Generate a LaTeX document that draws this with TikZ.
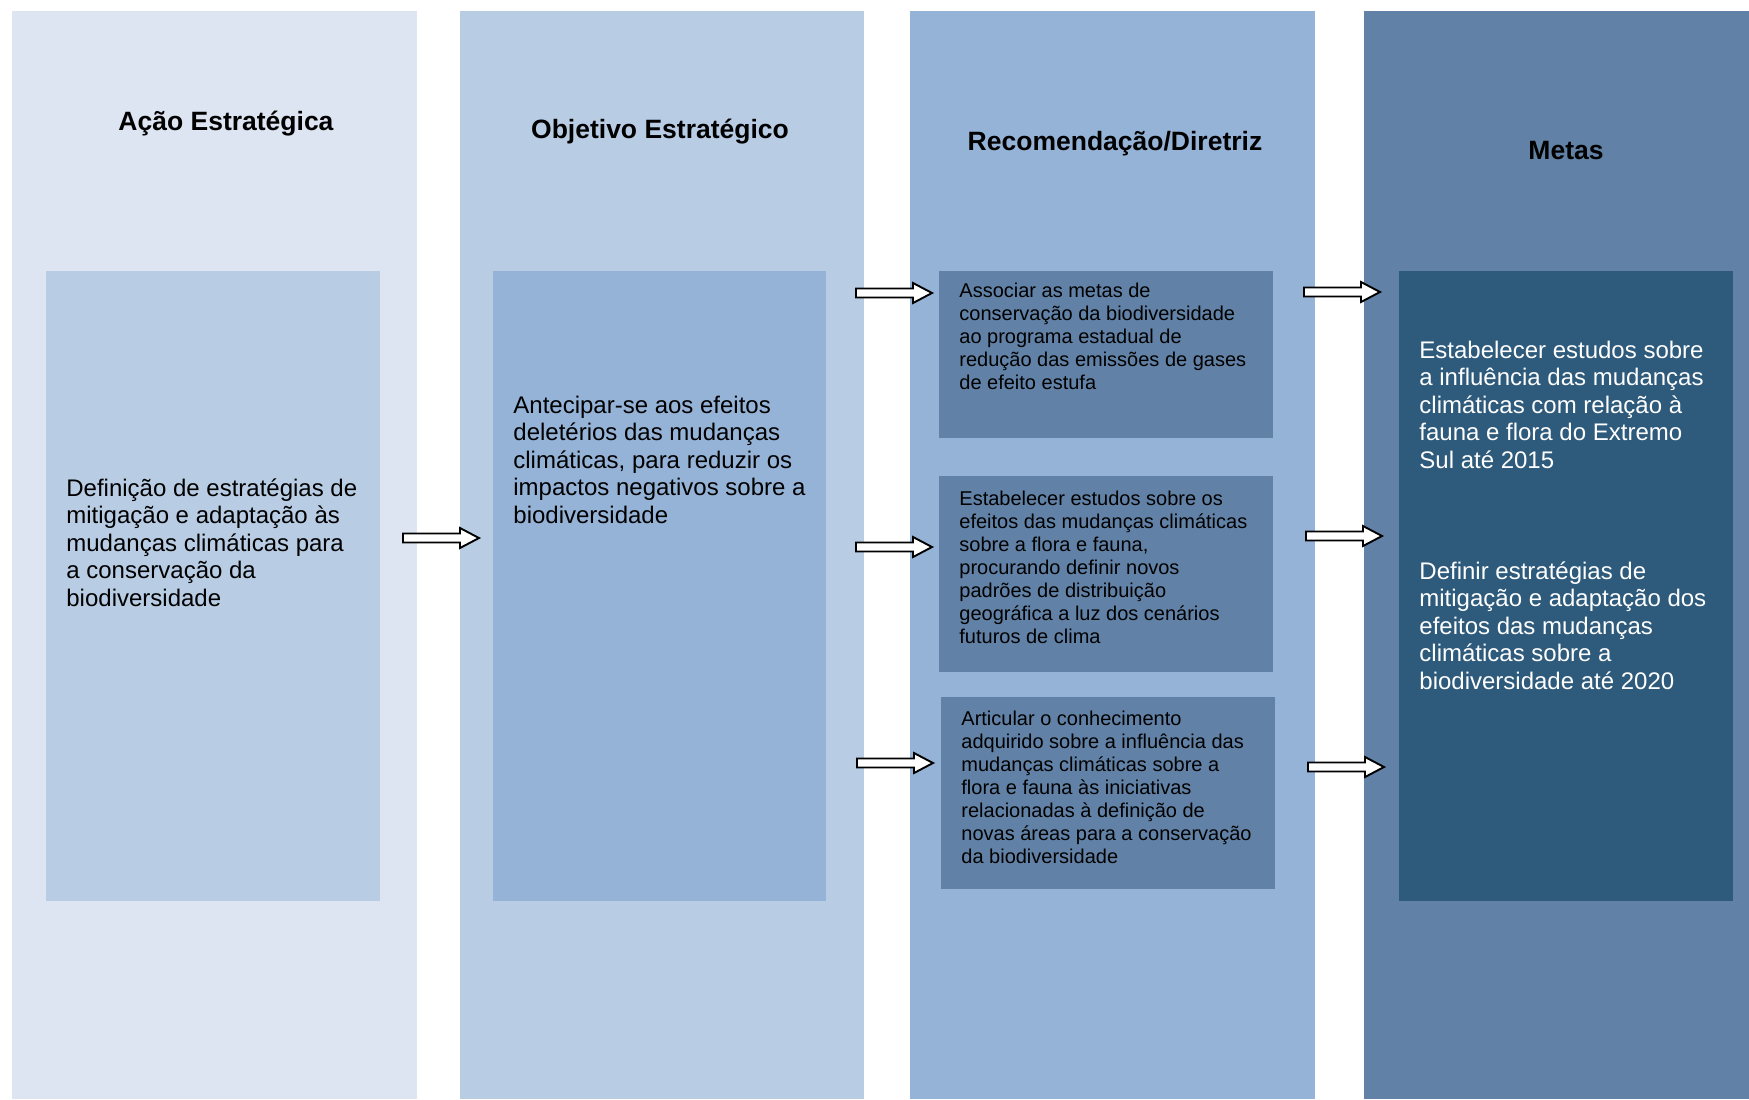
\documentclass[tikz,border=0pt]{standalone}
\usepackage{fontspec}
\setmainfont{Liberation Sans}
\begin{document}
\definecolor{colA}{HTML}{DCE5F1}
\definecolor{colB}{HTML}{B8CCE4}
\definecolor{colC}{HTML}{95B3D7}
\definecolor{colD}{HTML}{6182A6}
\definecolor{colE}{HTML}{2E5A7B}
\begin{tikzpicture}[x=0.5pt,y=-0.5pt,
  band/.style={fill=#1,draw=none},
  cell/.style={fill=#1,draw=none,inner sep=0,anchor=north west},
  head/.style={font=\fontsize{13.25}{15}\selectfont\bfseries,anchor=base,inner sep=0},
  body/.style={font=\fontsize{12}{13.8}\selectfont,align=left,anchor=base west,inner sep=0},
  small/.style={font=\fontsize{10}{11.55}\selectfont,align=left,anchor=base west,inner sep=0},
  blk/.style={draw=black,fill=white,line width=0.95pt,line join=miter}]
\useasboundingbox (0,0) rectangle (1749,1099);

% column bands
\fill[band=colA] (12,11) rectangle (417,1099);
\fill[band=colB] (460,11) rectangle (864,1099);
\fill[band=colC] (910,11) rectangle (1315,1099);
\fill[band=colD] (1364,11) rectangle (1749,1099);

% headings
\node[head] (h1) at (226,130) {Ação Estratégica};
\node[head] (h2) at (660,138) {Objetivo Estratégico};
\node[head] (h3) at (1115,150) {Recomendação/Diretriz};
\node[head] (h4) at (1566,159) {Metas};

% boxes
\node[cell=colB,minimum width=167pt,minimum height=315pt] (b1) at (46,271) {};
\node[cell=colC,minimum width=166.5pt,minimum height=315pt] (b2) at (493,271) {};
\node[cell=colD,minimum width=167pt,minimum height=83.5pt] (r1) at (939,271) {};
\node[cell=colD,minimum width=167pt,minimum height=98pt] (r2) at (939,476) {};
\node[cell=colD,minimum width=167pt,minimum height=96pt] (r3) at (941,697) {};
\node[cell=colE,minimum width=167pt,minimum height=315pt] (m1) at (1399,271) {};

% texts (anchored at the baseline of their last line)
\node[body] (t1) at (66,606.4) {Definição de estratégias de\\mitigação e adaptação às\\mudanças climáticas para\\a conservação da\\biodiversidade};
\node[body] (t2) at (513,523.4) {Antecipar-se aos efeitos\\deletérios das mudanças\\climáticas, para reduzir os\\impactos negativos sobre a\\biodiversidade};
\node[small] (t3) at (959,389.4) {Associar as metas de\\conservação da biodiversidade\\ao programa estadual de\\redução das emissões de gases\\de efeito estufa};
\node[small] (t4) at (959,643.6) {Estabelecer estudos sobre os\\efeitos das mudanças climáticas\\sobre a flora e fauna,\\procurando definir novos\\padrões de distribuição\\geográfica a luz dos cenários\\futuros de clima};
\node[small] (t5) at (961,863.6) {Articular o conhecimento\\adquirido sobre a influência das\\mudanças climáticas sobre a\\flora e fauna às iniciativas\\relacionadas à definição de\\novas áreas para a conservação\\da biodiversidade};
\node[body,text=white] (t6) at (1419,468.4) {Estabelecer estudos sobre\\a influência das mudanças\\climáticas com relação à\\fauna e flora do Extremo\\Sul até 2015};
\node[body,text=white] (t7) at (1419,689.4) {Definir estratégias de\\mitigação e adaptação dos\\efeitos das mudanças\\climáticas sobre a\\biodiversidade até 2020};

% block arrows
\foreach \ax/\ay in {403/538, 856/293, 856/547, 857/763, 1304/292, 1306/536, 1308/767}{
  \draw[blk,shift={(\ax,\ay)}] (0,-4.5) -- (57,-4.5) -- (57,-10) -- (76,0)
     -- (57,10) -- (57,4.5) -- (0,4.5) -- cycle;
}
\end{tikzpicture}
\end{document}
